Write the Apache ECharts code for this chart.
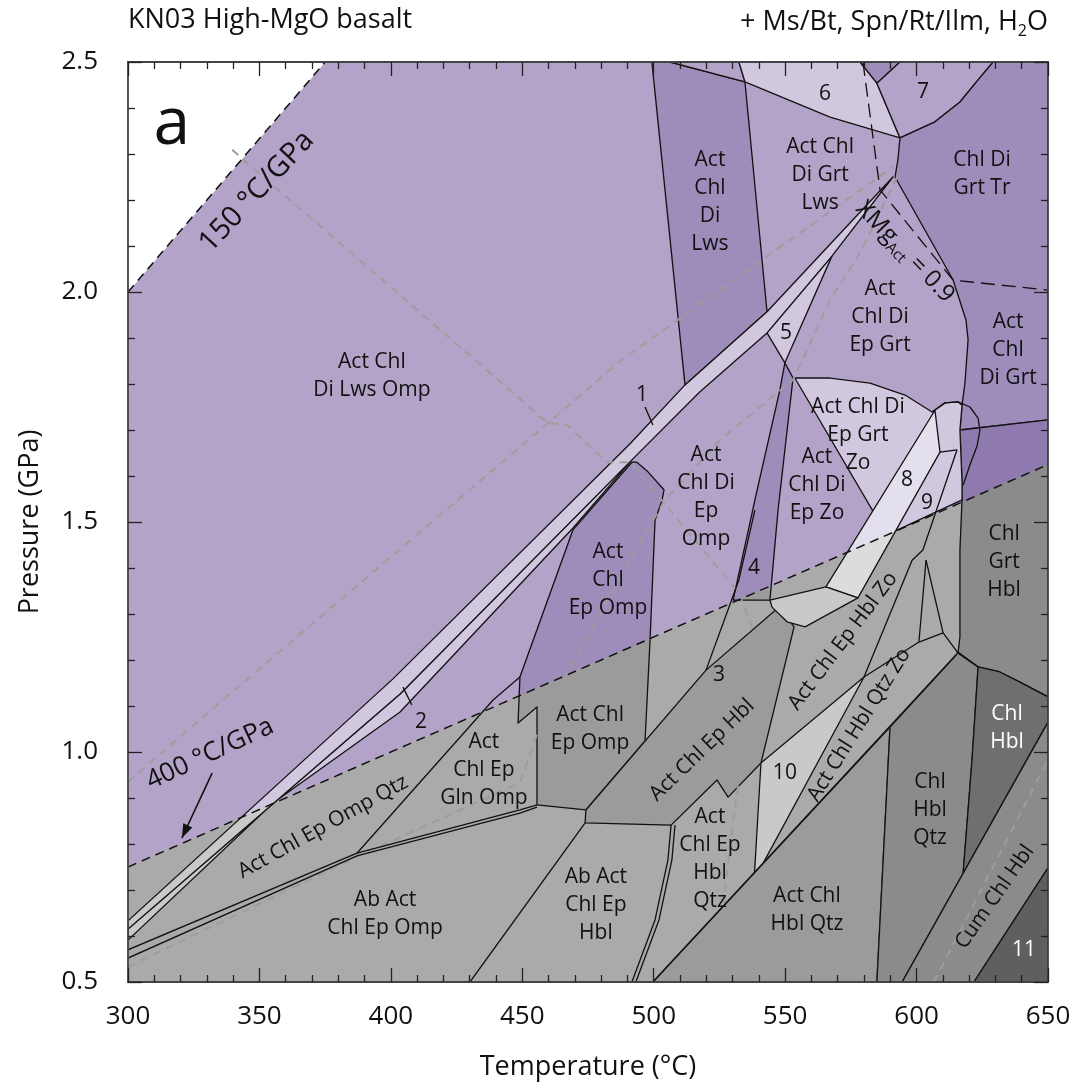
<!DOCTYPE html>
<html>
<head>
<meta charset="utf-8">
<script src="https://cdn.jsdelivr.net/npm/echarts/dist/echarts.min.js"></script>
<style>
html,body{margin:0;padding:0;background:#fff;}
#chart{width:1077px;height:1090px;}
</style>
</head>
<body>
<div id="chart"></div>
<script>
// ---------- axes ----------
const T_RANGE = [300, 650];          // temperature, degC
const P_RANGE = [0.5, 2.5];          // pressure, GPa
const T_STEP = 50, P_STEP = 0.5;

// ---------- stability fields (T degC, P GPa) ----------
const plotArea      = [[300,0.5],[650,0.5],[650,2.5],[300,2.5]];
const coldCorner    = [[300,2.0],[300,2.5],[375,2.5]];
const actChlDiLws   = [[499.3,2.5],[506.2,2.5],[534.7,2.457],[543.1,1.957],[511.9,1.798]];
const lwsTopWedge   = [[506.2,2.5],[532.4,2.5],[534.7,2.457]];
const field6        = [[532.4,2.5],[578.5,2.5],[584.9,2.454],[593.7,2.335],[567.1,2.380],[534.7,2.457]];
const topNotch      = [[578.5,2.5],[593.7,2.5],[584.9,2.454]];
const field7        = [[593.7,2.5],[629.1,2.5],[623.4,2.461],[616.5,2.413],[607.0,2.370],[593.7,2.335],[584.9,2.454]];
const chlDiGrtTr    = [[629.1,2.5],[650,2.5],[650,1.722],[616.5,1.700],[617.3,1.754],[618.4,1.802],[619.6,1.896],
                       [618.8,1.939],[613.9,2.026],[591.8,2.250],[592.9,2.287],[593.7,2.335],[607.0,2.370],[616.5,2.413],[623.4,2.461]];
const chlGrtHbl     = [[616.5,1.700],[650,1.722],[650,1.120],[639.3,1.152],[631.7,1.174],[623.4,1.185],[615.8,1.217],
                       [616.5,1.250],[616.5,1.439],[617.3,1.548],[617.3,1.585]];
const actChlDiEpGrtZo = [[553.7,1.813],[567.1,1.813],[582.3,1.802],[595.6,1.776],[605.9,1.739],[610.8,1.759],[615.8,1.761],
                       [617.3,1.754],[616.5,1.700],[617.3,1.585],[617.3,1.548],[588.7,1.472]];
const field8        = [[607.0,1.743],[608.9,1.652],[577.7,1.335],[565.5,1.359]];
const field4        = [[549.9,1.846],[548.0,1.787],[538.5,1.548],[530.2,1.330],[544.2,1.330],[547.3,1.526],[553.0,1.813]];
const field5        = [[543.1,1.911],[567.8,2.078],[549.9,1.846]];
const field2        = [[300,0.615],[403.5,1.126],[491.7,1.635],[469.3,1.487],[403.5,1.087],[355.2,0.889],[300,0.591]];
const field1        = [[300,0.633],[400.8,1.159],[491.0,1.670],[511.9,1.798],[543.1,1.957],[591.0,2.250],[567.8,2.078],
                       [543.1,1.911],[517.6,1.783],[491.7,1.635],[403.5,1.126],[300,0.615]];
const actChlEpOmp   = [[493.6,1.630],[497.8,1.609],[503.9,1.570],[503.2,1.548],[500.5,1.504],[498.6,1.243],[496.7,1.024],
                       [474.2,0.874],[455.6,0.885],[455.6,1.098],[448.4,1.063],[449.1,1.163],[469.3,1.483],[491.7,1.630]];
const actChlEpHbl   = [[473.9,0.846],[506.6,0.841],[524.1,0.939],[528.3,0.902],[540.8,0.976],[553.4,1.272],[547.7,1.315],
                       [519.9,1.178],[474.2,0.874]];
const zoiCap        = [[545.0,1.315],[550.7,1.283],[557.6,1.272],[577.7,1.335],[565.5,1.359],[544.2,1.330]];
const field10       = [[540.8,0.976],[580.0,1.163],[538.2,0.722]];
const actChlHblQtz  = [[499.7,0.5],[584.9,0.5],[589.9,1.054]];
const chlHblQtz     = [[584.9,0.5],[594.5,0.5],[617.7,0.736],[621.1,0.983],[623.4,1.185],[615.8,1.217],[615.0,1.211],[589.9,1.054]];
const chlHbl        = [[623.4,1.185],[631.7,1.174],[639.3,1.152],[650,1.120],[650,1.065],[617.7,0.736],[621.1,0.983]];
const cumChlHbl     = [[594.5,0.5],[650,1.065],[650,0.748],[621.8,0.5]];
const field11       = [[621.8,0.5],[650,0.748],[650,0.5]];

// ---------- extra boundaries (T, P) ----------
const grtLoop       = [[605.9,1.739],[610.8,1.759],[615.8,1.761],[620.3,1.750],[623.4,1.726],[624.1,1.700],[623.0,1.665],[620.3,1.624],[617.7,1.580]];
const line9         = [[615.4,1.657],[602.4,1.439],[598.3,1.417],[580.0,1.163]];
const line89        = [[608.9,1.652],[615.4,1.657]];
const abUpper       = [[300,0.570],[387.1,0.780],[449.1,0.874],[455.6,0.885]];
const abLower       = [[300,0.552],[387.1,0.774],[449.1,0.867],[455.6,0.880]];
const glnEdge       = [[387.1,0.780],[438.9,1.113],[449.1,1.163]];
const abHblLeft     = [[473.9,0.846],[430.1,0.5]];
const abHblRightA   = [[506.6,0.841],[505.4,0.765],[500.5,0.635],[491.7,0.5]];
const abHblRightB   = [[508.1,0.841],[506.9,0.765],[502.0,0.635],[493.2,0.5]];
const qtzInLine     = [[499.7,0.5],[615.0,1.211]];
const zoOutLine     = [[580.0,1.163],[600.9,1.239],[603.6,1.417]];
const hblKnot       = [[603.6,1.417],[610.1,1.259],[615.8,1.215],[623.4,1.185]];
const hblKnot2      = [[600.9,1.239],[610.1,1.259]];
const field3Edge    = [[538.5,1.526],[532.4,1.374],[519.9,1.178]];
const leader1       = [[496.7,1.750],[499.7,1.711]];
const leader2       = [[404.6,1.141],[408.0,1.102]];

// ---------- reference lines ----------
const geotherm150   = [[300,2.0],[375,2.5]];
const geotherm400   = [[300,0.75],[650,1.625]];
const xMgAct09      = [[579.6,2.5],[586.1,2.222],[613.9,2.026],[650,2.004]];
// P-T paths (grey dashed)
const pathA = [[300,0.935],[336.1,1.113],[459.8,1.715],[487.2,1.850],[591.0,2.272]];
const pathB = [[300,0.533],[387.1,0.772],[449.1,0.933],[457.9,1.076],[473.9,1.243],[491.0,1.417],[504.3,1.548],
               [525.2,1.678],[553.0,1.809],[567.1,1.983],[578.5,2.085],[592.6,2.250]];
const pathC = [[339.6,2.309],[459.8,1.715],[467.0,1.711],[482.2,1.630],[491.0,1.630],[532.4,1.346],[539.3,1.243],
               [535.9,1.070],[531.3,0.896],[527.5,0.722],[524.5,0.5]];
const pathD = [[606.6,0.5],[650,0.983]];
const arrow400      = [[332.0,0.954],[320.5,0.813]];

// ---------- labels ----------
const fieldLabels = [
  ['Act Chl\nDi Lws Omp', 392.8, 1.817, 0],
  ['Act\nChl\nDi\nLws', 521.4, 2.196, 0],
  ['Act Chl\nDi Grt\nLws', 563.3, 2.254, 0],
  ['6', 565.2, 2.430, 0],
  ['7', 602.4, 2.435, 0],
  ['Chl Di\nGrt Tr', 624.9, 2.257, 0],
  ['Act\nChl Di\nEp Grt', 586.1, 1.946, 0],
  ['Act\nChl\nDi Grt', 634.8, 1.874, 0],
  ['5', 550.3, 1.911, 0],
  ['1', 495.5, 1.776, 0],
  ['Act Chl Di\nEp Grt\nZo', 577.7, 1.689, 0],
  ['Act\nChl Di\nEp\nOmp', 519.9, 1.554, 0],
  ['Act\nChl Di\nEp Zo', 562.1, 1.580, 0],
  ['8', 596.4, 1.591, 0],
  ['9', 604.0, 1.541, 0],
  ['Act\nChl\nEp Omp', 482.6, 1.374, 0],
  ['4', 538.2, 1.400, 0],
  ['3', 524.8, 1.167, 0],
  ['2', 411.5, 1.065, 0],
  ['Act Chl\nEp Omp', 475.8, 1.050, 0],
  ['Act\nChl Ep\nGln Omp', 435.4, 0.961, 0],
  ['Act Chl Ep Omp Qtz', 374.2, 0.837, 29],
  ['Ab Act\nChl Ep Omp', 397.8, 0.648, 0],
  ['Ab Act\nChl Ep\nHbl', 478.0, 0.667, 0],
  ['Act\nChl Ep\nHbl\nQtz', 521.4, 0.767, 0],
  ['Act Chl Ep Hbl', 518.4, 1.004, 44],
  ['Act Chl Ep Hbl Zo', 572.0, 1.241, 53],
  ['10', 549.9, 0.954, 0],
  ['Act Chl Hbl Qtz Zo', 578.1, 1.059, 58],
  ['Act Chl\nHbl Qtz', 558.3, 0.657, 0],
  ['Chl\nHbl\nQtz', 605.1, 0.874, 0],
  ['Chl\nGrt\nHbl', 633.3, 1.413, 0],
  ['Cum Chl Hbl', 629.8, 0.685, 55]
];
const whiteLabels = [
  ['Chl\nHbl', 634.4, 1.052, 0],
  ['11', 640.9, 0.570, 0]
];

const FONT = '"Open Sans", "Noto Sans", sans-serif';

// fill colours: [above the 400 degC/GPa geotherm, below it]
const SHADES = {
  base:  ['#b3a3c8', '#aaaaaa'],
  dark:  ['#9e8cbb', '#9b9b9b'],
  light: ['#d1c7de', '#c9c9c9'],
  pale:  ['#e4dfec', '#dcdcdc'],
  deep:  ['#8e7aae', '#8b8b8b'],
  hbl:   ['#6f6f6f', '#6f6f6f'],
  cum:   ['#5f5f5f', '#5f5f5f'],
  white: ['#ffffff', '#ffffff']
};

const FIELDS = [
  {pts: plotArea, shade: 'base', edge: false},
  {pts: coldCorner, shade: 'white', edge: false},
  {pts: actChlDiLws, shade: 'dark'},
  {pts: lwsTopWedge, shade: 'base'},
  {pts: field6, shade: 'light'},
  {pts: topNotch, shade: 'dark'},
  {pts: field7, shade: 'base'},
  {pts: chlDiGrtTr, shade: 'dark'},
  {pts: chlGrtHbl, shade: 'deep'},
  {pts: actChlDiEpGrtZo, shade: 'light'},
  {pts: field8, shade: 'pale'},
  {pts: field4, shade: 'dark'},
  {pts: field5, shade: 'light'},
  {pts: field2, shade: 'light'},
  {pts: field1, shade: 'light'},
  {pts: actChlEpOmp, shade: 'dark'},
  {pts: actChlEpHbl, shade: 'dark'},
  {pts: zoiCap, shade: 'light'},
  {pts: field10, shade: 'light'},
  {pts: actChlHblQtz, shade: 'dark'},
  {pts: chlHblQtz, shade: 'deep'},
  {pts: chlHbl, shade: 'hbl'},
  {pts: cumChlHbl, shade: 'deep'},
  {pts: field11, shade: 'cum'}
];

const SOLID = {stroke: '#111', lineWidth: 1.3};
const LINES = [
  {pts: grtLoop, style: SOLID}, {pts: line9, style: SOLID}, {pts: line89, style: SOLID},
  {pts: abUpper, style: SOLID}, {pts: abLower, style: SOLID}, {pts: glnEdge, style: SOLID},
  {pts: abHblLeft, style: SOLID}, {pts: abHblRightA, style: SOLID}, {pts: abHblRightB, style: SOLID},
  {pts: qtzInLine, style: SOLID}, {pts: zoOutLine, style: SOLID}, {pts: hblKnot, style: SOLID},
  {pts: hblKnot2, style: SOLID}, {pts: field3Edge, style: SOLID},
  {pts: leader1, style: SOLID}, {pts: leader2, style: SOLID},
  {pts: geotherm150, style: {stroke: '#111', lineWidth: 1.5, lineDash: [9, 6]}},
  {pts: geotherm400, style: {stroke: '#111', lineWidth: 1.5, lineDash: [9, 6]}},
  {pts: xMgAct09, style: {stroke: '#111', lineWidth: 1.3, lineDash: [14, 7]}}
];
const PATHS = [pathA, pathB, pathC, pathD];

// split a polygon along P = T/400
function splitByGeotherm(pts) {
  const f = p => p[1] - p[0] / 400;
  function clip(sign) {
    const out = [];
    for (let i = 0; i < pts.length; i++) {
      const a = pts[i], b = pts[(i + 1) % pts.length];
      const fa = sign * f(a), fb = sign * f(b);
      if (fa >= 0) out.push(a);
      if ((fa >= 0) !== (fb >= 0)) {
        const t = fa / (fa - fb);
        out.push([a[0] + t * (b[0] - a[0]), a[1] + t * (b[1] - a[1])]);
      }
    }
    return out;
  }
  return [clip(1), clip(-1)];
}

// outline runs, leaving out edges that lie on the dashed geotherm
function outlineRuns(pts) {
  const n = pts.length, runs = [];
  const onG = p => Math.abs(p[1] - p[0] / 400) < 0.004;
  let start = 0;
  for (let i = 0; i < n; i++) {
    if (onG(pts[i]) && onG(pts[(i + 1) % n])) { start = i + 1; break; }
  }
  let cur = null;
  for (let k = 0; k < n; k++) {
    const i = (start + k) % n, a = pts[i], b = pts[(i + 1) % n];
    if (onG(a) && onG(b)) { if (cur) { runs.push(cur); cur = null; } continue; }
    if (!cur) cur = [a];
    cur.push(b);
  }
  if (cur) runs.push(cur);
  return runs;
}

function renderField(params, api) {
  const fld = FIELDS[params.dataIndex];
  const c = SHADES[fld.shade];
  const parts = splitByGeotherm(fld.pts);
  const children = [];
  parts.forEach((poly, k) => {
    if (poly.length > 2) {
      children.push({
        type: 'polygon',
        shape: {points: poly.map(p => api.coord(p))},
        style: {fill: c[k], stroke: c[k], lineWidth: 0.6}
      });
    }
  });
  if (fld.edge !== false) {
    outlineRuns(fld.pts).forEach(run => {
      children.push({
        type: 'polyline',
        shape: {points: run.map(p => api.coord(p))},
        style: {fill: null, stroke: '#111', lineWidth: 1.3, lineJoin: 'round'}
      });
    });
  }
  return {type: 'group', children};
}

function renderLine(list) {
  return function (params, api) {
    const ln = list[params.dataIndex];
    return {
      type: 'polyline',
      shape: {points: ln.pts.map(p => api.coord(p))},
      style: Object.assign({fill: null, lineJoin: 'round'}, ln.style)
    };
  };
}

function renderPath(params, api) {
  return {
    type: 'polyline',
    shape: {points: PATHS[params.dataIndex].map(p => api.coord(p))},
    style: {fill: null, stroke: '#9d9d9d', lineWidth: 2, lineDash: [8, 6]}
  };
}

function labelRenderer(list, color, size) {
  return function (params, api) {
    const [txt, t, p, rot] = list[params.dataIndex];
    const xy = api.coord([t, p]);
    return {
      type: 'text', x: xy[0], y: xy[1], rotation: rot * Math.PI / 180,
      style: {text: txt, fill: color, fontSize: size, fontFamily: FONT,
              lineHeight: 28, align: 'center', verticalAlign: 'middle'}
    };
  };
}

function renderNotes(params, api) {
  const items = [];
  const a = api.coord([316.7, 2.363]);
  items.push({type: 'text', x: a[0], y: a[1], style: {text: 'a', fill: '#111', fontSize: 66, fontFamily: FONT, align: 'center', verticalAlign: 'middle'}});
  const g150 = api.coord([349.0, 2.218]);
  items.push({type: 'text', x: g150[0], y: g150[1], rotation: 47 * Math.PI / 180,
    style: {text: '150 °C/GPa', fill: '#111', fontSize: 29, fontFamily: FONT, align: 'center', verticalAlign: 'middle'}});
  const g400 = api.coord([331.2, 0.996]);
  items.push({type: 'text', x: g400[0], y: g400[1], rotation: 25 * Math.PI / 180,
    style: {text: '400 °C/GPa', fill: '#111', fontSize: 26, fontFamily: FONT, align: 'center', verticalAlign: 'middle'}});
  const xm = api.coord([595.6, 2.087]);
  items.push({type: 'text', x: xm[0], y: xm[1], rotation: -46 * Math.PI / 180,
    style: {text: '{m|XMg}{s|Act}{m| = 0.9}', fill: '#111', fontFamily: FONT, align: 'center', verticalAlign: 'middle',
      rich: {m: {fontSize: 24, lineHeight: 30, fontFamily: FONT, fill: '#111'},
             s: {fontSize: 15, lineHeight: 15, verticalAlign: 'bottom', fontFamily: FONT, fill: '#111'}}}});
  // arrow to the 400 degC/GPa line
  const p0 = api.coord(arrow400[0]), p1 = api.coord(arrow400[1]);
  items.push({type: 'line', shape: {x1: p0[0], y1: p0[1], x2: p1[0], y2: p1[1]}, style: {stroke: '#111', lineWidth: 1.6}});
  const ang = Math.atan2(p1[1] - p0[1], p1[0] - p0[0]);
  const L = 14, W = 5;
  const bx = p1[0] - L * Math.cos(ang), by = p1[1] - L * Math.sin(ang);
  items.push({type: 'polygon', shape: {points: [
    [p1[0], p1[1]],
    [bx + W * Math.sin(ang), by - W * Math.cos(ang)],
    [bx - W * Math.sin(ang), by + W * Math.cos(ang)]]}, style: {fill: '#111'}});
  return {type: 'group', children: items};
}

const idx = arr => arr.map((d, i) => [T_RANGE[0], P_RANGE[0], i]);

const axisCommon = {
  type: 'value', z: 10,
  axisLine: {show: true, onZero: false, lineStyle: {color: '#444', width: 1.8}},
  axisTick: {show: true, inside: true, length: 14, lineStyle: {color: '#222', width: 1.3}},
  minorTick: {show: true, splitNumber: 5, length: 7, lineStyle: {color: '#222', width: 1.3}},
  splitLine: {show: false}, minorSplitLine: {show: false}
};

const chart = echarts.init(document.getElementById('chart'), null, {renderer: 'canvas'});
chart.setOption({
  animation: false,
  backgroundColor: '#fff',
  title: [
    {text: 'KN03 High-MgO basalt', left: 128, top: 7, padding: 0,
     textStyle: {fontFamily: FONT, fontSize: 27, fontWeight: 'normal', color: '#111'}},
    {text: '{m|+ Ms/Bt, Spn/Rt/Ilm, H}{s|2}{m|O}', right: 29, top: 5, padding: 0,
     textStyle: {fontWeight: 'normal',
                 rich: {m: {fontFamily: FONT, fontSize: 27, fontWeight: 'normal', color: '#111', lineHeight: 34},
                        s: {fontFamily: FONT, fontSize: 16, fontWeight: 'normal', color: '#111', lineHeight: 16, verticalAlign: 'bottom'}}}}
  ],
  grid: {left: 128, top: 62, width: 920, height: 920, containLabel: false},
  xAxis: [
    Object.assign({}, axisCommon, {
      min: T_RANGE[0], max: T_RANGE[1], interval: T_STEP, position: 'bottom',
      axisLabel: {show: true, fontSize: 26, fontFamily: FONT, color: '#111', margin: 22},
      name: 'Temperature (°C)', nameLocation: 'middle', nameGap: 72,
      nameTextStyle: {fontSize: 27, fontFamily: FONT, color: '#111'}
    }),
    Object.assign({}, axisCommon, {
      min: T_RANGE[0], max: T_RANGE[1], interval: T_STEP, position: 'top', axisLabel: {show: false}
    })
  ],
  yAxis: [
    Object.assign({}, axisCommon, {
      min: P_RANGE[0], max: P_RANGE[1], interval: P_STEP, position: 'left',
      axisLabel: {show: true, fontSize: 26, fontFamily: FONT, color: '#111', margin: 30,
                  formatter: v => v.toFixed(1)},
      name: 'Pressure (GPa)', nameLocation: 'middle', nameGap: 84, nameRotate: 90,
      nameTextStyle: {fontSize: 27, fontFamily: FONT, color: '#111'}
    }),
    Object.assign({}, axisCommon, {
      min: P_RANGE[0], max: P_RANGE[1], interval: P_STEP, position: 'right', axisLabel: {show: false}
    })
  ],
  series: [
    {type: 'custom', name: 'fields', coordinateSystem: 'cartesian2d', clip: true, z: 1,
     renderItem: renderField, data: idx(FIELDS), silent: true},
    {type: 'custom', name: 'paths', coordinateSystem: 'cartesian2d', clip: true, z: 2,
     renderItem: renderPath, data: idx(PATHS), silent: true},
    {type: 'custom', name: 'boundaries', coordinateSystem: 'cartesian2d', clip: true, z: 3,
     renderItem: renderLine(LINES), data: idx(LINES), silent: true},
    {type: 'custom', name: 'labels', coordinateSystem: 'cartesian2d', clip: false, z: 5,
     renderItem: labelRenderer(fieldLabels, '#111', 21), data: idx(fieldLabels), silent: true},
    {type: 'custom', name: 'labelsLight', coordinateSystem: 'cartesian2d', clip: false, z: 5,
     renderItem: labelRenderer(whiteLabels, '#ffffff', 21), data: idx(whiteLabels), silent: true},
    {type: 'custom', name: 'notes', coordinateSystem: 'cartesian2d', clip: false, z: 6,
     renderItem: renderNotes, data: [[T_RANGE[0], P_RANGE[0]]], silent: true}
  ]
});
</script>
</body>
</html>
